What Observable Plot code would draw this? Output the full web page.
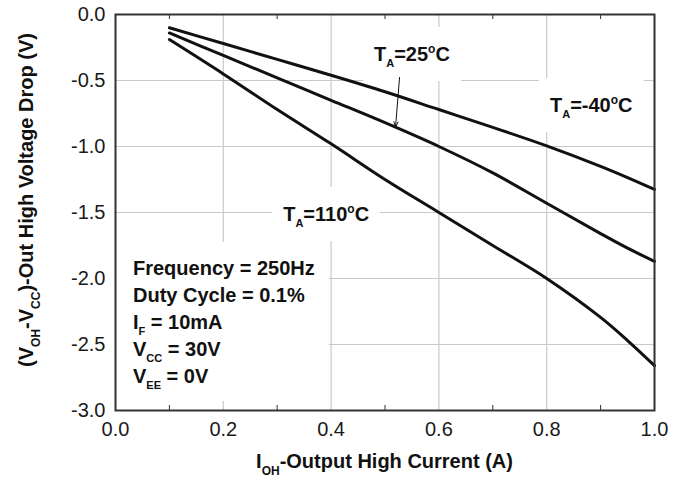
<!DOCTYPE html>
<html><head><meta charset="utf-8">
<script src="https://cdn.jsdelivr.net/npm/d3@7"></script>
<script src="https://cdn.jsdelivr.net/npm/@observablehq/plot@0.6"></script>
<style>
body{margin:0;background:#fff;}
#chart svg{display:block;}
</style>
</head><body><div id="chart"></div>
<script>
// ---- data ----
const current = [0.1, 0.2, 0.3, 0.4, 0.5, 0.6, 0.7, 0.8, 0.9, 0.95, 1.0];
const dropM40 = [-0.10, -0.22, -0.34, -0.46, -0.585, -0.72, -0.855, -0.995, -1.15, -1.235, -1.325];
const drop25  = [-0.14, -0.31, -0.48, -0.65, -0.82, -1.00, -1.20, -1.43, -1.66, -1.77, -1.87];
const drop110 = [-0.19, -0.45, -0.72, -0.98, -1.25, -1.50, -1.75, -2.00, -2.295, -2.47, -2.66];
const seriesNames = ["-40", "25", "110"];

const xTicks = [0, 0.2, 0.4, 0.6, 0.8, 1.0];
const xMinorTicks = [0.1, 0.3, 0.5, 0.7, 0.9];
const yTicks = [0, -0.5, -1.0, -1.5, -2.0, -2.5, -3.0];

// annotation labels (data units)
const labelTemps = ["25", "-40", "110"];
const labelX = [0.4805, 0.807, 0.312];
const labelY = [-0.356, -0.742, -1.568];
// arrow from the 25°C label to its curve
const arrowX1 = [0.527], arrowY1 = [-0.477], arrowX2 = [0.5195], arrowY2 = [-0.856];
// condition block
const condX = 0.0334, condY = -1.977;
const condLines = [
  ["Frequency = 250Hz"],
  ["Duty Cycle = 0.1%"],
  ["I", "F", " = 10mA"],
  ["V", "CC", " = 30V"],
  ["V", "EE", " = 0V"]
];

const font = "'Liberation Sans', Arial, Helvetica, sans-serif";
const rows = [];
current.forEach((c, i) => {
  rows.push({x: c, y: dropM40[i], s: seriesNames[0]});
  rows.push({x: c, y: drop25[i], s: seriesNames[1]});
  rows.push({x: c, y: drop110[i], s: seriesNames[2]});
});
const fmt = d => (+d).toFixed(1);
const arrows = arrowX1.map((d, i) => ({x1: d, y1: arrowY1[i], x2: arrowX2[i], y2: arrowY2[i]}));

const plot = Plot.plot({
  width: 681, height: 483,
  marginLeft: 115, marginRight: 27, marginTop: 14, marginBottom: 73,
  style: {fontFamily: font, fontSize: "20px", color: "#1a1a1a", background: "#fff"},
  x: {domain: [0, 1]},
  y: {domain: [-3, 0]},
  marks: [
    Plot.gridX(xTicks, {stroke: "#c9c9c9", strokeOpacity: 1, strokeWidth: 1.2}),
    Plot.gridY(yTicks, {stroke: "#c9c9c9", strokeOpacity: 1, strokeWidth: 1.2}),
    Plot.tickX(xMinorTicks, {x: d => d, insetBottom: 391, stroke: "#333", strokeWidth: 1}),
    Plot.tickX(xMinorTicks, {x: d => d, insetTop: 391, stroke: "#333", strokeWidth: 1}),
    Plot.line(rows, {x: "x", y: "y", z: "s", stroke: "#111", strokeWidth: 3, curve: "catmull-rom"}),
    Plot.arrow(arrows, {x1: "x1", y1: "y1", x2: "x2", y2: "y2", stroke: "#111", strokeWidth: 1, headLength: 9, headAngle: 40}),
    Plot.frame({stroke: "#333", strokeWidth: 2}),
    Plot.axisX(xTicks, {tickSize: 0, tickPadding: 11, tickFormat: fmt, label: null, fontSize: 20}),
    Plot.axisY(yTicks, {tickSize: 0, tickPadding: 10, tickFormat: fmt, label: null, fontSize: 20})
  ]
});
document.getElementById("chart").appendChild(plot);

const sx = plot.scale("x"), sy = plot.scale("y");
const svg = d3.select(plot);
const lineG = svg.select('g[aria-label="tick"]').node();

function boxBehind(g, padL, padT, padR, padB) {
  const b = g.node().getBBox();
  const r = document.createElementNS("http://www.w3.org/2000/svg", "rect");
  r.setAttribute("x", b.x - padL);
  r.setAttribute("y", b.y - padT);
  r.setAttribute("width", b.width + padL + padR);
  r.setAttribute("height", b.height + padT + padB);
  r.setAttribute("fill", "#fff");
  plot.insertBefore(r, lineG);
}

// temperature labels
labelTemps.forEach((t, i) => {
  const g = svg.append("g").attr("text-anchor", "start");
  const tx = g.append("text")
    .attr("text-anchor", "start")
    .attr("x", sx.apply(labelX[i])).attr("y", sy.apply(labelY[i]))
    .attr("font-family", font).attr("font-weight", "bold").attr("font-size", 20).attr("fill", "#111");
  tx.append("tspan").text("T");
  tx.append("tspan").attr("font-size", 11).attr("dy", 6).text("A");
  tx.append("tspan").attr("dy", -6).text("=" + t);
  tx.append("tspan").attr("font-size", 12).attr("dy", -8).text("o");
  tx.append("tspan").attr("dy", 8).text("C");
  boxBehind(g, 11, 15, 11, 12);
});

// conditions block
const cg = svg.append("g").attr("text-anchor", "start");
condLines.forEach((parts, i) => {
  const t = cg.append("text")
    .attr("text-anchor", "start")
    .attr("x", sx.apply(condX)).attr("y", sy.apply(condY) + i * 27)
    .attr("font-family", font).attr("font-weight", "bold").attr("font-size", 20).attr("fill", "#111");
  t.append("tspan").text(parts[0]);
  if (parts.length > 1) {
    t.append("tspan").attr("font-size", 11).attr("dy", 6).text(parts[1]);
    t.append("tspan").attr("dy", -6).text(parts[2]);
  }
});
boxBehind(cg, 16, 15, 14, 10);

// axis titles
const xt = svg.append("text")
  .attr("x", (sx.apply(0) + sx.apply(1)) / 2).attr("y", 468)
  .attr("text-anchor", "middle").attr("font-family", font).attr("font-weight", "bold")
  .attr("font-size", 20).attr("fill", "#111");
xt.append("tspan").text("I");
xt.append("tspan").attr("font-size", 12).attr("dy", 7).text("OH");
xt.append("tspan").attr("dy", -7).text("-Output High Current (A)");

const yt = svg.append("text")
  .attr("transform", "translate(33,200) rotate(-90)")
  .attr("text-anchor", "middle").attr("font-family", font).attr("font-weight", "bold")
  .attr("font-size", 20).attr("fill", "#111");
yt.append("tspan").text("(V");
yt.append("tspan").attr("font-size", 12).attr("dy", 7).text("OH");
yt.append("tspan").attr("dy", -7).text("-V");
yt.append("tspan").attr("font-size", 12).attr("dy", 7).text("CC");
yt.append("tspan").attr("dy", -7).text(")-Out High Voltage Drop (V)");
</script>
</body></html>
